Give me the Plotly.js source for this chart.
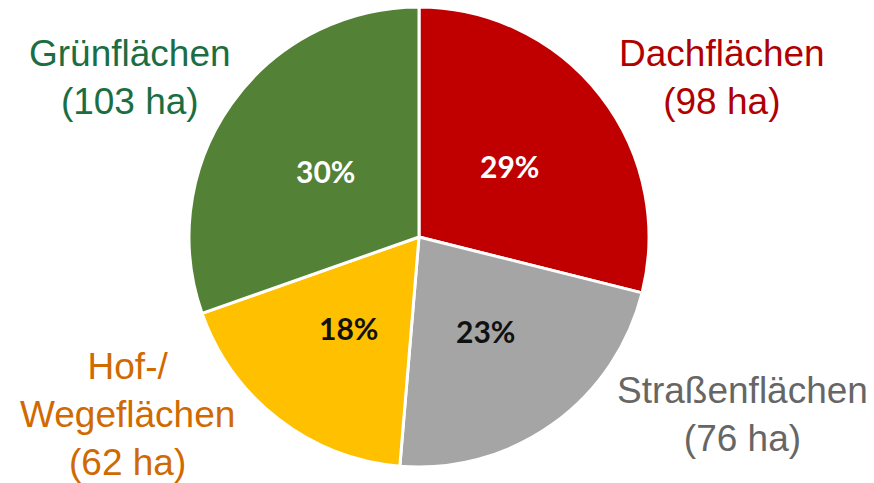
<!DOCTYPE html>
<html>
<head>
<meta charset="utf-8">
<script src="https://cdn.plot.ly/plotly-3.0.1.min.js"></script>
<style>html,body{margin:0;padding:0;background:#fff;}#chart{width:874px;height:483px;}</style>
</head>
<body>
<div id="chart"></div>
<script>
const categories = ["Dachflächen", "Straßenflächen", "Hof-/<br>Wegeflächen", "Grünflächen"];
const areasHa = [98, 76, 62, 103];
const percentLabels = ["29%", "23%", "18%", "30%"];
const sliceColors = ["#C00000", "#A5A5A5", "#FFC000", "#538135"];
const labelTextColors = ["#FFFFFF", "#111111", "#111111", "#FFFFFF"];
const outerTextColors = ["#B00000", "#666666", "#D06A00", "#1B6E43"];
const outerPos = [[722, 78], [742, 414], [127, 414], [130, 78]];

const W = 874, H = 483, CX = 419, CY = 237, R = 230;

const trace = {
  type: "pie",
  labels: categories,
  values: areasHa,
  textinfo: "none",
  sort: false,
  direction: "clockwise",
  rotation: 0,
  marker: {colors: sliceColors, line: {color: "#FFFFFF", width: 3}},
  domain: {x: [(CX - R) / W, (CX + R) / W], y: [(H - CY - R) / H, (H - CY + R) / H]},
  hoverinfo: "none",
  showlegend: false
};

// percent labels at half radius on each slice's mid-angle (computed from data)
const total = areasHa.reduce((a, b) => a + b, 0);
let cum = 0;
const pctAnnotations = areasHa.map((v, i) => {
  const mid = (cum + v / 2) / total;
  cum += v;
  const ang = Math.PI / 2 - mid * 2 * Math.PI;
  const px = CX + 0.5 * R * Math.cos(ang);
  const py = CY - 0.5 * R * Math.sin(ang);
  return {
    text: "<b>" + percentLabels[i] + "</b>",
    x: px / W, y: 1 - py / H,
    xref: "paper", yref: "paper",
    xanchor: "center", yanchor: "middle",
    showarrow: false,
    font: {family: "Lato, 'DejaVu Sans', sans-serif", size: 30, color: labelTextColors[i]}
  };
});

const outerAnnotations = categories.map((c, i) => ({
  text: c + "<br>(" + areasHa[i] + " ha)",
  x: outerPos[i][0] / W,
  y: 1 - outerPos[i][1] / H,
  xref: "paper", yref: "paper",
  xanchor: "center", yanchor: "middle",
  showarrow: false,
  align: "center",
  font: {family: "'Liberation Sans', Arial, sans-serif", size: 37, color: outerTextColors[i]}
}));

const layout = {
  width: W, height: H,
  margin: {l: 0, r: 0, t: 0, b: 0},
  paper_bgcolor: "#FFFFFF",
  showlegend: false,
  annotations: pctAnnotations.concat(outerAnnotations)
};

Plotly.newPlot("chart", [trace], layout, {staticPlot: true, displayModeBar: false});
</script>
</body>
</html>
